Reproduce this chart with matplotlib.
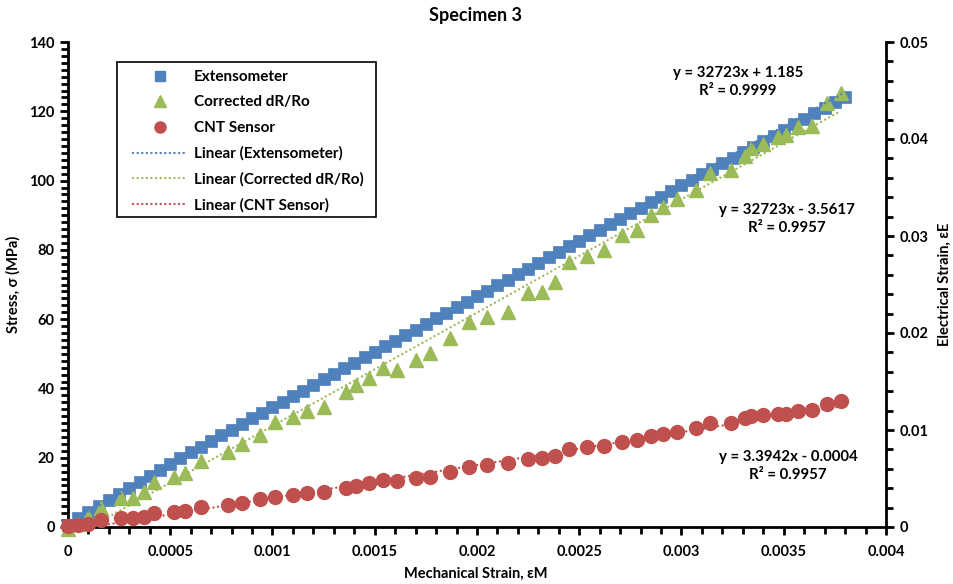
import matplotlib
matplotlib.use("Agg")
import matplotlib.pyplot as plt
from matplotlib.lines import Line2D
from matplotlib.patches import Rectangle
from matplotlib.ticker import MultipleLocator, FuncFormatter

plt.rcParams['font.family'] = ['Lato', 'DejaVu Sans']
plt.rcParams['font.weight'] = 'bold'
plt.rcParams['font.size'] = 10.5

# Extensometer: mechanical strain vs stress (MPa)
ext_strain = [0.0, 0.00005, 0.0001, 0.00015, 0.0002, 0.00025, 0.0003, 0.00035, 0.0004, 0.00045,
              0.0005, 0.00055, 0.0006, 0.00065, 0.0007, 0.00075, 0.0008, 0.00085, 0.0009, 0.00095,
              0.001, 0.00105, 0.0011, 0.00115, 0.0012, 0.00125, 0.0013, 0.00135, 0.0014, 0.00145,
              0.0015, 0.00155, 0.0016, 0.00165, 0.0017, 0.00175, 0.0018, 0.00185, 0.0019, 0.00195,
              0.002, 0.00205, 0.0021, 0.00215, 0.0022, 0.00225, 0.0023, 0.00235, 0.0024, 0.00245,
              0.0025, 0.00255, 0.0026, 0.00265, 0.0027, 0.00275, 0.0028, 0.00285, 0.0029, 0.00295,
              0.003, 0.00305, 0.0031, 0.00315, 0.0032, 0.00325, 0.0033, 0.00335, 0.0034, 0.00345,
              0.0035, 0.00355, 0.0036, 0.00365, 0.0037, 0.00375, 0.0038]
ext_stress = [0.5, 2.6, 4.3, 6.1, 7.9, 9.6, 11.4, 13.1, 14.8, 16.5,
              18.2, 19.9, 21.6, 23.2, 24.9, 26.5, 28.1, 29.8, 31.4, 33.0,
              34.6, 36.2, 37.8, 39.4, 41.0, 42.6, 44.2, 45.8, 47.4, 49.0,
              50.6, 52.2, 53.8, 55.4, 57.0, 58.6, 60.2, 61.8, 63.4, 65.0,
              66.6, 68.2, 69.8, 71.4, 73.0, 74.6, 76.2, 77.8, 79.4, 81.0,
              82.6, 84.2, 85.8, 87.4, 89.0, 90.6, 92.2, 93.8, 95.4, 97.0,
              98.6, 100.2, 101.8, 103.4, 105.0, 106.6, 108.2, 109.8, 111.4, 113.0,
              114.6, 116.2, 117.8, 119.4, 121.0, 122.6, 124.2]

# CNT sensor readings (shared strain points)
sen_strain = [0.0, 0.00005, 0.0001, 0.00016, 0.00026, 0.00032, 0.00037, 0.00042, 0.00052, 0.00057,
              0.00065, 0.00078, 0.00085, 0.00094, 0.00101, 0.0011, 0.00117, 0.00125, 0.00136, 0.00141,
              0.00147, 0.00154, 0.00161, 0.0017, 0.00177, 0.00187, 0.00196, 0.00205, 0.00215, 0.00225,
              0.00232, 0.00238, 0.00245, 0.00254, 0.00262, 0.00271, 0.00278, 0.00285, 0.00291, 0.00298,
              0.00307, 0.00314, 0.00324, 0.00331, 0.00334, 0.0034, 0.00347, 0.00351, 0.00357, 0.00364,
              0.00371, 0.00378]
corr_stress = [-0.5, 1.0, 2.9, 5.5, 8.4, 8.4, 10.1, 13.0, 14.4, 15.6,
               19.1, 21.7, 24.0, 26.6, 30.3, 31.8, 33.5, 34.6, 39.0, 41.0,
               43.0, 45.9, 45.3, 48.2, 50.2, 54.6, 59.2, 60.6, 62.0, 67.5,
               67.9, 70.8, 76.6, 78.2, 80.0, 84.3, 85.7, 90.1, 92.3, 94.6,
               97.3, 102.2, 103.0, 107.1, 109.4, 110.5, 112.6, 113.2, 115.5, 115.8,
               122.4, 125.3]
cnt_strain = [0.0001, 0.0002, 0.0003, 0.0007, 0.0009, 0.0009, 0.0010, 0.0014, 0.0015, 0.0017,
              0.0021, 0.0023, 0.0025, 0.0029, 0.0031, 0.0033, 0.0035, 0.0036, 0.0040, 0.0042,
              0.0045, 0.0048, 0.0047, 0.0051, 0.0052, 0.0057, 0.0062, 0.0064, 0.0066, 0.0070,
              0.0071, 0.0073, 0.0080, 0.0082, 0.0084, 0.0088, 0.0090, 0.0094, 0.0096, 0.0098,
              0.0102, 0.0107, 0.0107, 0.0112, 0.0114, 0.0115, 0.0117, 0.0117, 0.0120, 0.0121,
              0.0127, 0.0130]

# trendline coefficients as printed on the chart
fit_ext = (32723, 1.185)
fit_corr = (32723, -3.5617)
fit_cnt = (3.3942, -0.0004)

BLUE = '#4F81BD'
GREEN = '#9BBB59'
RED = '#C0504D'

fig = plt.figure(figsize=(9.54, 5.84), dpi=100)
ax = fig.add_axes([68 / 954, 57 / 584, 818 / 954, 485 / 584])
ax2 = ax.twinx()

ax.plot(ext_strain, ext_stress, 's', color=BLUE, ms=8.5, mec=BLUE, mew=0.5, clip_on=False, zorder=3)
ax.plot(sen_strain, corr_stress, '^', color=GREEN, ms=10.5, mec=GREEN, clip_on=False, zorder=3)

dots = (0, (0.05, 1.9))
x_fit = [min(ext_strain), max(ext_strain)]
ax.plot(x_fit, [fit_ext[0] * v + fit_ext[1] for v in x_fit], color=BLUE, lw=1.7,
        linestyle=dots, dash_capstyle='round', zorder=4)
x_fit2 = [min(sen_strain), max(sen_strain)]
ax.plot(x_fit2, [fit_corr[0] * v + fit_corr[1] for v in x_fit2], color=GREEN, lw=1.7,
        linestyle=dots, dash_capstyle='round', zorder=4)

ax2.plot(sen_strain, cnt_strain, 'o', color=RED, ms=10, mec=RED, clip_on=False, zorder=3)
ax2.plot(x_fit2, [fit_cnt[0] * v + fit_cnt[1] for v in x_fit2], color=RED, lw=1.7,
         linestyle=dots, dash_capstyle='round', zorder=4)

ax.set_xlim(0, 0.004)
ax.set_ylim(0, 140)
ax2.set_ylim(0, 0.05)

ax.xaxis.set_major_locator(MultipleLocator(0.0005))
ax.xaxis.set_minor_locator(MultipleLocator(0.0001))
ax.yaxis.set_major_locator(MultipleLocator(20))
ax.yaxis.set_minor_locator(MultipleLocator(2))
ax2.yaxis.set_major_locator(MultipleLocator(0.01))
ax2.yaxis.set_minor_locator(MultipleLocator(0.002))
fmt = FuncFormatter(lambda v, p: '%g' % round(v, 6))
ax.xaxis.set_major_formatter(fmt)
ax2.yaxis.set_major_formatter(fmt)

for a in (ax, ax2):
    a.spines['top'].set_visible(False)
    for s in a.spines.values():
        s.set_linewidth(2)
    a.tick_params(which='major', length=6, width=2, labelsize=10.5)
    a.tick_params(which='minor', length=5, width=2)
ax.spines['right'].set_visible(False)
ax2.spines['left'].set_visible(False)
ax2.spines['bottom'].set_visible(False)
ax.tick_params(axis='x', which='both', direction='out', pad=7)

fig.text(476 / 954, 1 - 574 / 584, 'Mechanical Strain, εM', ha='center', va='center',
         fontsize=10.5, fontweight='bold')
fig.text(13 / 954, 1 - 284 / 584, 'Stress, σ (MPa)', ha='center', va='center',
         rotation=90, fontsize=10.5, fontweight='bold')
fig.text(945 / 954, 1 - 284 / 584, 'Electrical Strain, εE', ha='center', va='center',
         rotation=90, fontsize=10.5, fontweight='bold')
fig.text(476 / 954, 1 - 16 / 584, 'Specimen 3', ha='center', va='center',
         fontsize=13, fontweight='bold')

ax.text(0.003276, 128.5, 'y = 32723x + 1.185\nR² = 0.9999', ha='center', va='center',
        fontsize=10.8, linespacing=1.35)
ax.text(0.003516, 88.9, 'y = 32723x - 3.5617\nR² = 0.9957', ha='center', va='center',
        fontsize=10.8, linespacing=1.35)
ax.text(0.003521, 17.6, 'y = 3.3942x - 0.0004\nR² = 0.9957', ha='center', va='center',
        fontsize=10.8, linespacing=1.35)

# legend frame drawn separately so the padding matches
frame = Rectangle((117 / 954, 1 - 217 / 584), 259 / 954, 155 / 584, transform=fig.transFigure,
                  facecolor='white', edgecolor='black', linewidth=1.2, zorder=5)
ax2.add_patch(frame)
frame.set_clip_on(False)

handles = [
    Line2D([], [], marker='s', ls='none', color=BLUE, ms=7),
    Line2D([], [], marker='^', ls='none', color=GREEN, ms=8),
    Line2D([], [], marker='o', ls='none', color=RED, ms=8),
    Line2D([], [], color=BLUE, lw=1.7, ls=dots, dash_capstyle='round'),
    Line2D([], [], color=GREEN, lw=1.7, ls=dots, dash_capstyle='round'),
    Line2D([], [], color=RED, lw=1.7, ls=dots, dash_capstyle='round'),
]
labels = ['Extensometer', 'Corrected dR/Ro', 'CNT Sensor',
          'Linear (Extensometer)', 'Linear (Corrected dR/Ro)', 'Linear (CNT Sensor)']
leg = ax2.legend(handles, labels, loc='upper left', bbox_to_anchor=(133 / 954, 1 - 70 / 584),
                 bbox_transform=fig.transFigure, frameon=False,
                 handlelength=3.6, handletextpad=0.4, labelspacing=0.75, borderpad=0,
                 borderaxespad=0, fontsize=11)
leg.set_zorder(6)

fig.savefig('out.png', dpi=100)
